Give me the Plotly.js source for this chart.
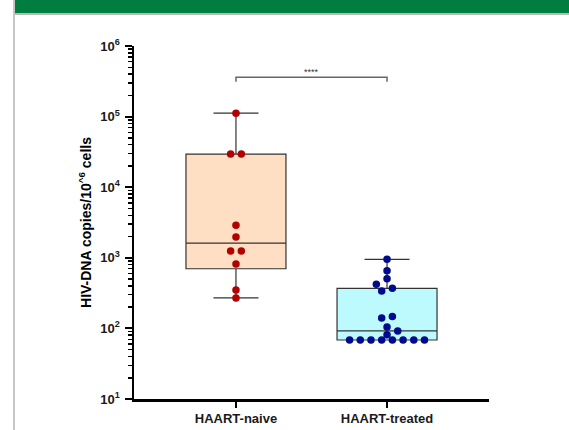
<!DOCTYPE html>
<html><head><meta charset="utf-8">
<script src="https://cdn.plot.ly/plotly-3.0.1.min.js"></script>
<style>
html,body{margin:0;padding:0;background:#fff;}
#wrap{position:relative;width:569px;height:430px;overflow:hidden;background:#fff;}
#chart{position:absolute;left:0;top:0;width:569px;height:430px;}
#banner{position:absolute;left:15px;top:0;width:554px;height:13px;background:#007e40;}
#bline{position:absolute;left:15px;top:13px;width:554px;height:2px;background:#b9b9b9;}
#lline{position:absolute;left:13px;top:0;width:2px;height:430px;background:#c6c6c6;}
</style></head><body>
<div id="wrap"><div id="chart"></div><div id="banner"></div><div id="bline"></div><div id="lline"></div></div>
<script>
// ---- data ----
const categories = ['HAART-naive', 'HAART-treated'];
const naiveValues = [112000, 29500, 29500, 2900, 1970, 1250, 1250, 817, 350, 270];
const treatedValues = [953, 656, 506, 421, 370, 339, 148, 140, 105, 92, 81,
                       68.5, 68.5, 68.5, 68.5, 68.5, 68.5, 68.5, 68.5];
const yTickVals = [10, 100, 1000, 10000, 100000, 1000000];
const yTickText = ['10<sup>1</sup>', '10<sup>2</sup>', '10<sup>3</sup>', '10<sup>4</sup>', '10<sup>5</sup>', '10<sup>6</sup>'];
const yTitle = 'HIV-DNA copies/10<sup>^6</sup> cells';
const significance = '****';

// ---- layout geometry / styles ----
const W = 569, H = 430;
const M = {l: 134, r: 80, t: 46, b: 31};
const plotW = W - M.l - M.r, plotH = H - M.t - M.b;
const xRange = [-0.675, 1.675];
const yRangeLog = [1, 6];
const pxPerDec = plotH / (yRangeLog[1] - yRangeLog[0]);
const pxPerUnit = plotW / (xRange[1] - xRange[0]);
const STEP = 10.7, COLL = 7;
const FONT = 'Liberation Sans, Arial, Helvetica, sans-serif';

// GraphPad-style quantile ((n+1)p with linear interpolation)
function quantile(arr, p) {
  const s = arr.slice().sort((a, b) => a - b);
  const pos = (s.length + 1) * p;
  const lo = Math.floor(pos), frac = pos - lo;
  if (lo < 1) return s[0];
  if (lo >= s.length) return s[s.length - 1];
  return s[lo - 1] + frac * (s[lo] - s[lo - 1]);
}

// simple beeswarm: rows of near-equal values are centred, then shifted to avoid overlap
function swarm(values) {
  const pts = values.map((v, i) => ({v, i, y: Math.log10(v) * pxPerDec})).sort((a, b) => a.y - b.y);
  const groups = [];
  for (const p of pts) {
    const g = groups[groups.length - 1];
    if (g && p.y - g[0].y < 3) g.push(p); else groups.push([p]);
  }
  const placed = [];
  for (const g of groups) {
    const base = g.map((p, k) => k - (g.length - 1) / 2);
    for (let t = 0; t < 60; t++) {
      const shift = t === 0 ? 0 : (t % 2 === 1 ? (t + 1) / 2 : -t / 2);
      const ok = g.every((p, k) => placed.every(q => {
        const dx = (base[k] + shift - q.o) * STEP, dy = p.y - q.y;
        return dx * dx + dy * dy >= COLL * COLL;
      }));
      if (ok) { g.forEach((p, k) => { p.o = base[k] + shift; placed.push(p); }); break; }
    }
  }
  const out = new Array(values.length);
  pts.forEach(p => { out[p.i] = p.o * STEP / pxPerUnit; });
  return out;
}

const groupsData = [
  {vals: naiveValues, fill: '#ffdfc3', dot: '#b00000'},
  {vals: treatedValues, fill: '#bdfafd', dot: '#000a8c'}
];

const traces = [];
groupsData.forEach((g, ci) => {
  traces.push({
    type: 'box', x: [ci],
    q1: [quantile(g.vals, 0.25)], median: [quantile(g.vals, 0.5)], q3: [quantile(g.vals, 0.75)],
    lowerfence: [Math.min(...g.vals)], upperfence: [Math.max(...g.vals)],
    width: 0.662, whiskerwidth: 0.45, fillcolor: g.fill,
    line: {color: '#333333', width: 1.2}, boxpoints: false, hoverinfo: 'skip', showlegend: false
  });
});
groupsData.forEach((g, ci) => {
  const offs = swarm(g.vals);
  traces.push({
    type: 'scatter', mode: 'markers',
    x: g.vals.map((v, i) => ci + offs[i]), y: g.vals,
    marker: {size: 7.5, color: g.dot, line: {width: 0}},
    showlegend: false, hoverinfo: 'y'
  });
});

const minorVals = [];
for (let e = yRangeLog[0]; e < yRangeLog[1]; e++) for (let d = 2; d <= 9; d++) minorVals.push(d * Math.pow(10, e));

const layout = {
  width: W, height: H, margin: M,
  paper_bgcolor: 'rgba(0,0,0,0)', plot_bgcolor: 'rgba(0,0,0,0)',
  font: {family: FONT, color: '#000'},
  showlegend: false,
  xaxis: {
    range: xRange, tickmode: 'array', tickvals: [0, 1], ticktext: categories,
    showline: true, linecolor: '#000', linewidth: 2.5, ticks: 'outside', ticklen: 6, tickwidth: 2, tickcolor: '#000',
    showgrid: false, zeroline: false, tickfont: {family: FONT, size: 13, weight: 'bold', color: '#1a1a1a'}
  },
  yaxis: {
    type: 'log', range: yRangeLog, tickmode: 'array', tickvals: yTickVals, ticktext: yTickText,
    showline: true, linecolor: '#000', linewidth: 2.5, ticks: 'outside', ticklen: 7, tickwidth: 2, tickcolor: '#000',
    ticklabelstandoff: 2,
    minor: {tickmode: 'array', tickvals: minorVals, ticks: 'outside', ticklen: 4, tickwidth: 1.5, tickcolor: '#000', showgrid: false},
    showgrid: false, zeroline: false, tickfont: {family: FONT, size: 13, weight: 'bold', color: '#1a1a1a'},
    title: {text: yTitle, font: {family: FONT, size: 14, weight: 'bold', color: '#000'}, standoff: 6}
  },
  shapes: [{
    type: 'path', xref: 'x', yref: 'paper',
    path: 'M 0,0.8989 L 0,0.9113 L 1,0.9113 L 1,0.8989',
    line: {color: '#666666', width: 1.5}
  }],
  annotations: [{
    xref: 'x', yref: 'paper', x: 0.5, y: 0.945, text: significance, showarrow: false,
    font: {family: FONT, size: 9, color: '#333'}
  }]
};

Plotly.newPlot('chart', traces, layout, {displayModeBar: false, staticPlot: true});
</script>
</body></html>
